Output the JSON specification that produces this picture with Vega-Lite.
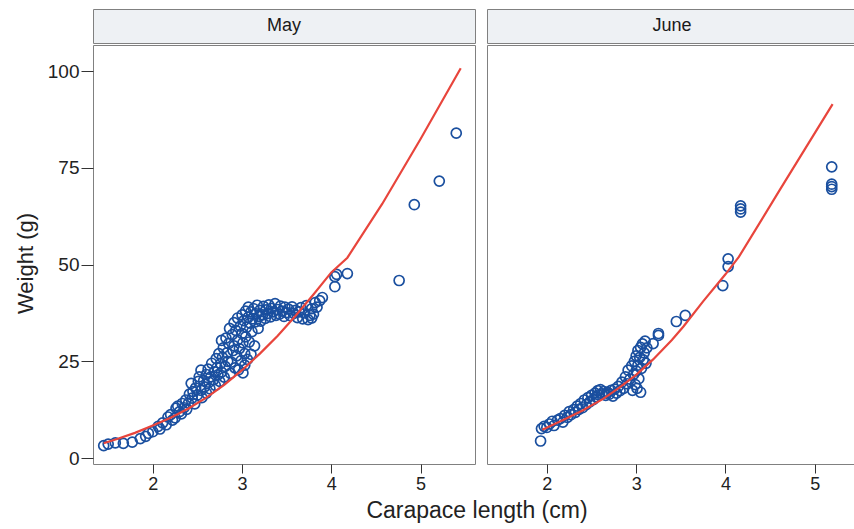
{
  "$schema": "https://vega.github.io/schema/vega-lite/v6.json",
  "padding": {"left": 13, "top": 8, "right": 0, "bottom": 0},
  "background": "white",
  "config": {
    "font": "Liberation Sans",
    "view": {"stroke": "#808080", "strokeWidth": 1}
  },
  "datasets": {
    "may": [
      {"length":1.45,"weight":3.2},{"length":1.50,"weight":3.6},{"length":1.58,"weight":3.9},{"length":1.67,"weight":3.8},
      {"length":1.77,"weight":4.1},{"length":1.86,"weight":5.0},{"length":1.92,"weight":5.6},{"length":1.95,"weight":6.4},
      {"length":2.00,"weight":6.8},{"length":2.06,"weight":8.2},{"length":2.08,"weight":7.5},{"length":2.11,"weight":9.1},
      {"length":2.15,"weight":8.6},{"length":2.17,"weight":10.6},{"length":2.20,"weight":11.2},{"length":2.22,"weight":9.8},
      {"length":2.25,"weight":10.4},{"length":2.26,"weight":12.9},{"length":2.28,"weight":13.4},{"length":2.30,"weight":12.0},
      {"length":2.32,"weight":11.4},{"length":2.33,"weight":14.1},{"length":2.35,"weight":13.0},{"length":2.37,"weight":15.0},
      {"length":2.38,"weight":12.6},{"length":2.40,"weight":14.2},{"length":2.41,"weight":16.5},{"length":2.43,"weight":19.3},
      {"length":2.44,"weight":15.5},{"length":2.45,"weight":17.2},{"length":2.47,"weight":14.0},{"length":2.48,"weight":18.1},
      {"length":2.50,"weight":16.3},{"length":2.51,"weight":19.8},{"length":2.52,"weight":21.0},{"length":2.54,"weight":22.7},
      {"length":2.54,"weight":17.5},{"length":2.55,"weight":15.6},{"length":2.57,"weight":20.0},{"length":2.58,"weight":18.4},
      {"length":2.60,"weight":21.6},{"length":2.60,"weight":16.8},{"length":2.62,"weight":23.0},{"length":2.63,"weight":19.6},
      {"length":2.64,"weight":17.9},{"length":2.65,"weight":21.0},{"length":2.66,"weight":24.5},{"length":2.68,"weight":20.2},
      {"length":2.69,"weight":22.3},{"length":2.70,"weight":18.8},{"length":2.71,"weight":25.7},{"length":2.72,"weight":23.4},
      {"length":2.73,"weight":21.5},{"length":2.74,"weight":27.0},{"length":2.75,"weight":19.8},{"length":2.76,"weight":24.4},
      {"length":2.77,"weight":30.4},{"length":2.77,"weight":22.2},{"length":2.78,"weight":26.0},{"length":2.79,"weight":28.5},
      {"length":2.80,"weight":20.9},{"length":2.81,"weight":23.7},{"length":2.82,"weight":31.0},{"length":2.83,"weight":27.2},
      {"length":2.84,"weight":25.0},{"length":2.85,"weight":29.6},{"length":2.86,"weight":33.5},{"length":2.87,"weight":21.9},
      {"length":2.88,"weight":24.8},{"length":2.89,"weight":31.9},{"length":2.90,"weight":27.8},{"length":2.91,"weight":35.0},
      {"length":2.91,"weight":29.0},{"length":2.92,"weight":23.3},{"length":2.93,"weight":33.0},{"length":2.94,"weight":26.4},
      {"length":2.95,"weight":36.2},{"length":2.95,"weight":30.5},{"length":2.96,"weight":22.8},{"length":2.97,"weight":28.3},
      {"length":2.98,"weight":34.1},{"length":2.99,"weight":25.2},{"length":3.00,"weight":32.2},{"length":3.00,"weight":37.0},
      {"length":3.01,"weight":22.0},{"length":3.01,"weight":29.8},{"length":3.02,"weight":35.5},{"length":3.03,"weight":24.0},
      {"length":3.03,"weight":27.0},{"length":3.04,"weight":38.0},{"length":3.04,"weight":31.3},{"length":3.05,"weight":33.8},
      {"length":3.06,"weight":25.5},{"length":3.07,"weight":36.4},{"length":3.07,"weight":39.0},{"length":3.08,"weight":30.0},
      {"length":3.09,"weight":34.9},{"length":3.10,"weight":37.8},{"length":3.10,"weight":26.8},{"length":3.11,"weight":32.7},
      {"length":3.12,"weight":36.0},{"length":3.13,"weight":38.6},{"length":3.14,"weight":29.0},{"length":3.15,"weight":35.2},
      {"length":3.16,"weight":37.3},{"length":3.17,"weight":39.5},{"length":3.18,"weight":33.5},{"length":3.19,"weight":36.6},
      {"length":3.20,"weight":38.2},{"length":3.21,"weight":35.4},{"length":3.23,"weight":37.0},{"length":3.24,"weight":39.2},
      {"length":3.26,"weight":36.1},{"length":3.27,"weight":38.3},{"length":3.29,"weight":37.4},{"length":3.30,"weight":39.6},
      {"length":3.32,"weight":36.5},{"length":3.33,"weight":38.7},{"length":3.35,"weight":37.8},{"length":3.37,"weight":39.9},
      {"length":3.38,"weight":36.9},{"length":3.40,"weight":38.4},{"length":3.42,"weight":37.2},{"length":3.43,"weight":39.3},
      {"length":3.45,"weight":38.0},{"length":3.47,"weight":36.6},{"length":3.48,"weight":39.0},{"length":3.50,"weight":37.6},
      {"length":3.52,"weight":38.5},{"length":3.54,"weight":36.8},{"length":3.56,"weight":39.1},{"length":3.58,"weight":37.4},
      {"length":3.60,"weight":38.2},{"length":3.62,"weight":36.3},{"length":3.64,"weight":37.8},{"length":3.66,"weight":38.9},
      {"length":3.68,"weight":36.0},{"length":3.70,"weight":37.5},{"length":3.72,"weight":39.4},{"length":3.74,"weight":35.8},
      {"length":3.76,"weight":36.9},{"length":3.78,"weight":38.6},{"length":3.80,"weight":37.2},{"length":3.82,"weight":40.2},
      {"length":3.84,"weight":39.0},{"length":3.87,"weight":40.7},{"length":3.90,"weight":41.5},{"length":3.78,"weight":36.2},
      {"length":4.04,"weight":44.3},{"length":4.04,"weight":46.9},{"length":4.06,"weight":47.5},{"length":4.18,"weight":47.7},
      {"length":4.76,"weight":45.9},{"length":4.93,"weight":65.5},{"length":5.21,"weight":71.6},{"length":5.40,"weight":84.0}
    ],
    "mayfit": [
      {"length":1.45,"weight":3.8},{"length":1.6,"weight":4.9},{"length":1.8,"weight":6.5},{"length":2.0,"weight":8.4},
      {"length":2.2,"weight":10.4},{"length":2.4,"weight":12.8},{"length":2.6,"weight":15.6},{"length":2.8,"weight":18.9},
      {"length":3.0,"weight":22.7},{"length":3.2,"weight":27.0},{"length":3.4,"weight":31.6},{"length":3.6,"weight":36.8},
      {"length":3.8,"weight":42.3},{"length":4.0,"weight":48.0},{"length":4.18,"weight":51.8},{"length":4.57,"weight":65.7},
      {"length":5.0,"weight":82.5},{"length":5.45,"weight":100.8}
    ],
    "june": [
      {"length":1.93,"weight":4.4},{"length":1.94,"weight":7.6},{"length":1.97,"weight":8.2},{"length":2.00,"weight":7.9},
      {"length":2.03,"weight":8.8},{"length":2.06,"weight":9.5},{"length":2.08,"weight":8.4},{"length":2.12,"weight":9.8},
      {"length":2.15,"weight":10.2},{"length":2.18,"weight":9.3},{"length":2.20,"weight":11.0},{"length":2.23,"weight":10.5},
      {"length":2.25,"weight":12.0},{"length":2.27,"weight":11.2},{"length":2.30,"weight":12.5},{"length":2.32,"weight":11.8},
      {"length":2.34,"weight":13.4},{"length":2.36,"weight":12.6},{"length":2.38,"weight":14.1},{"length":2.40,"weight":13.0},
      {"length":2.42,"weight":15.0},{"length":2.44,"weight":13.8},{"length":2.46,"weight":15.6},{"length":2.48,"weight":14.5},
      {"length":2.50,"weight":16.2},{"length":2.52,"weight":15.1},{"length":2.54,"weight":16.8},{"length":2.55,"weight":15.8},
      {"length":2.57,"weight":17.4},{"length":2.58,"weight":16.3},{"length":2.60,"weight":17.7},{"length":2.62,"weight":16.6},
      {"length":2.64,"weight":17.2},{"length":2.66,"weight":16.2},{"length":2.68,"weight":17.0},{"length":2.70,"weight":16.5},
      {"length":2.72,"weight":17.5},{"length":2.74,"weight":16.0},{"length":2.76,"weight":17.8},{"length":2.78,"weight":16.8},
      {"length":2.80,"weight":18.5},{"length":2.82,"weight":17.4},{"length":2.84,"weight":19.6},{"length":2.86,"weight":18.0},
      {"length":2.88,"weight":21.0},{"length":2.90,"weight":19.2},{"length":2.91,"weight":22.7},{"length":2.93,"weight":20.4},
      {"length":2.95,"weight":23.8},{"length":2.96,"weight":17.5},{"length":2.97,"weight":21.6},{"length":2.98,"weight":25.0},
      {"length":2.99,"weight":19.0},{"length":3.00,"weight":26.4},{"length":3.00,"weight":22.5},{"length":3.01,"weight":18.0},
      {"length":3.02,"weight":27.8},{"length":3.02,"weight":24.0},{"length":3.03,"weight":20.5},{"length":3.04,"weight":26.0},
      {"length":3.05,"weight":28.6},{"length":3.05,"weight":17.0},{"length":3.06,"weight":23.2},{"length":3.07,"weight":29.5},
      {"length":3.08,"weight":25.4},{"length":3.09,"weight":27.2},{"length":3.10,"weight":30.2},{"length":3.11,"weight":24.5},
      {"length":3.12,"weight":28.5},{"length":3.19,"weight":29.6},{"length":3.25,"weight":31.7},{"length":3.25,"weight":32.2},
      {"length":3.45,"weight":35.3},{"length":3.55,"weight":36.9},{"length":3.97,"weight":44.6},{"length":4.03,"weight":49.5},
      {"length":4.03,"weight":51.5},{"length":4.17,"weight":63.6},{"length":4.17,"weight":64.4},{"length":4.17,"weight":65.2},
      {"length":5.19,"weight":69.5},{"length":5.19,"weight":70.2},{"length":5.19,"weight":70.8},{"length":5.19,"weight":75.3}
    ],
    "junefit": [
      {"length":1.95,"weight":7.3},{"length":2.2,"weight":10.0},{"length":2.4,"weight":12.3},{"length":2.63,"weight":15.3},
      {"length":2.8,"weight":18.0},{"length":3.0,"weight":21.5},{"length":3.19,"weight":25.5},{"length":3.4,"weight":30.5},
      {"length":3.53,"weight":34.0},{"length":3.75,"weight":40.5},{"length":4.0,"weight":47.5},{"length":4.15,"weight":52.0},
      {"length":4.6,"weight":69.0},{"length":5.2,"weight":91.5}
    ]
  },
  "title": {
    "text": "Carapace length (cm)",
    "orient": "bottom",
    "anchor": "middle",
    "frame": "group",
    "fontSize": 23,
    "fontWeight": "normal",
    "color": "#222222",
    "offset": 6,
    "dx": 384
  },
  "spacing": 10,
  "hconcat": [
    {
      "spacing": 0,
      "vconcat": [
        {
          "width": 382, "height": 34,
          "view": {"fill": "#eef1f4", "stroke": "#808080"},
          "data": {"values": [{"month": "May"}]},
          "mark": {"type": "text", "fontSize": 18, "color": "#1a1a1a"},
          "encoding": {"text": {"field": "month"}}
        },
        {
          "width": 382, "height": 419,
          "layer": [
            {
              "data": {"name": "may"},
              "mark": {"type": "point", "shape": "circle", "filled": false, "size": 100, "strokeWidth": 1.7, "color": "#1a4f9f", "opacity": 1},
              "encoding": {
                "x": {"field": "length", "type": "quantitative", "scale": {"domain": [1.33, 5.61], "nice": false, "zero": false},
                      "axis": {"values": [2,3,4,5], "format": "d", "title": null, "grid": false, "domain": false, "tickSize": 9, "tickColor": "#333333", "labelFontSize": 18, "labelPadding": 2, "labelColor": "#222222", "labelFlush": false}},
                "y": {"field": "weight", "type": "quantitative", "scale": {"domain": [-1.55, 106.8], "nice": false, "zero": false},
                      "axis": {"values": [0,25,50,75,100], "format": "d", "title": "Weight (g)", "titleFontSize": 22, "titleFontWeight": "normal", "titleColor": "#222222", "titlePadding": 10, "titleY": 218, "grid": false, "domain": false, "tickSize": 12, "tickColor": "#333333", "labelFontSize": 19, "labelPadding": 2, "labelColor": "#222222"}}
              }
            },
            {
              "data": {"name": "mayfit"},
              "mark": {"type": "line", "color": "#e8453c", "strokeWidth": 2.2},
              "encoding": {
                "x": {"field": "length", "type": "quantitative"},
                "y": {"field": "weight", "type": "quantitative"}
              }
            }
          ]
        }
      ]
    },
    {
      "spacing": 0,
      "vconcat": [
        {
          "width": 370, "height": 34,
          "view": {"fill": "#eef1f4", "stroke": "#808080"},
          "data": {"values": [{"month": "June"}]},
          "mark": {"type": "text", "fontSize": 18, "color": "#1a1a1a"},
          "encoding": {"text": {"field": "month"}}
        },
        {
          "width": 370, "height": 419,
          "layer": [
            {
              "data": {"name": "june"},
              "mark": {"type": "point", "shape": "circle", "filled": false, "size": 100, "strokeWidth": 1.7, "color": "#1a4f9f", "opacity": 1},
              "encoding": {
                "x": {"field": "length", "type": "quantitative", "scale": {"domain": [1.33, 5.473], "nice": false, "zero": false},
                      "axis": {"values": [2,3,4,5], "format": "d", "title": null, "grid": false, "domain": false, "tickSize": 9, "tickColor": "#333333", "labelFontSize": 18, "labelPadding": 2, "labelColor": "#222222", "labelFlush": false}},
                "y": {"field": "weight", "type": "quantitative", "scale": {"domain": [-1.55, 106.8], "nice": false, "zero": false}, "axis": null}
              }
            },
            {
              "data": {"name": "junefit"},
              "mark": {"type": "line", "color": "#e8453c", "strokeWidth": 2.2},
              "encoding": {
                "x": {"field": "length", "type": "quantitative"},
                "y": {"field": "weight", "type": "quantitative"}
              }
            }
          ]
        }
      ]
    }
  ]
}
